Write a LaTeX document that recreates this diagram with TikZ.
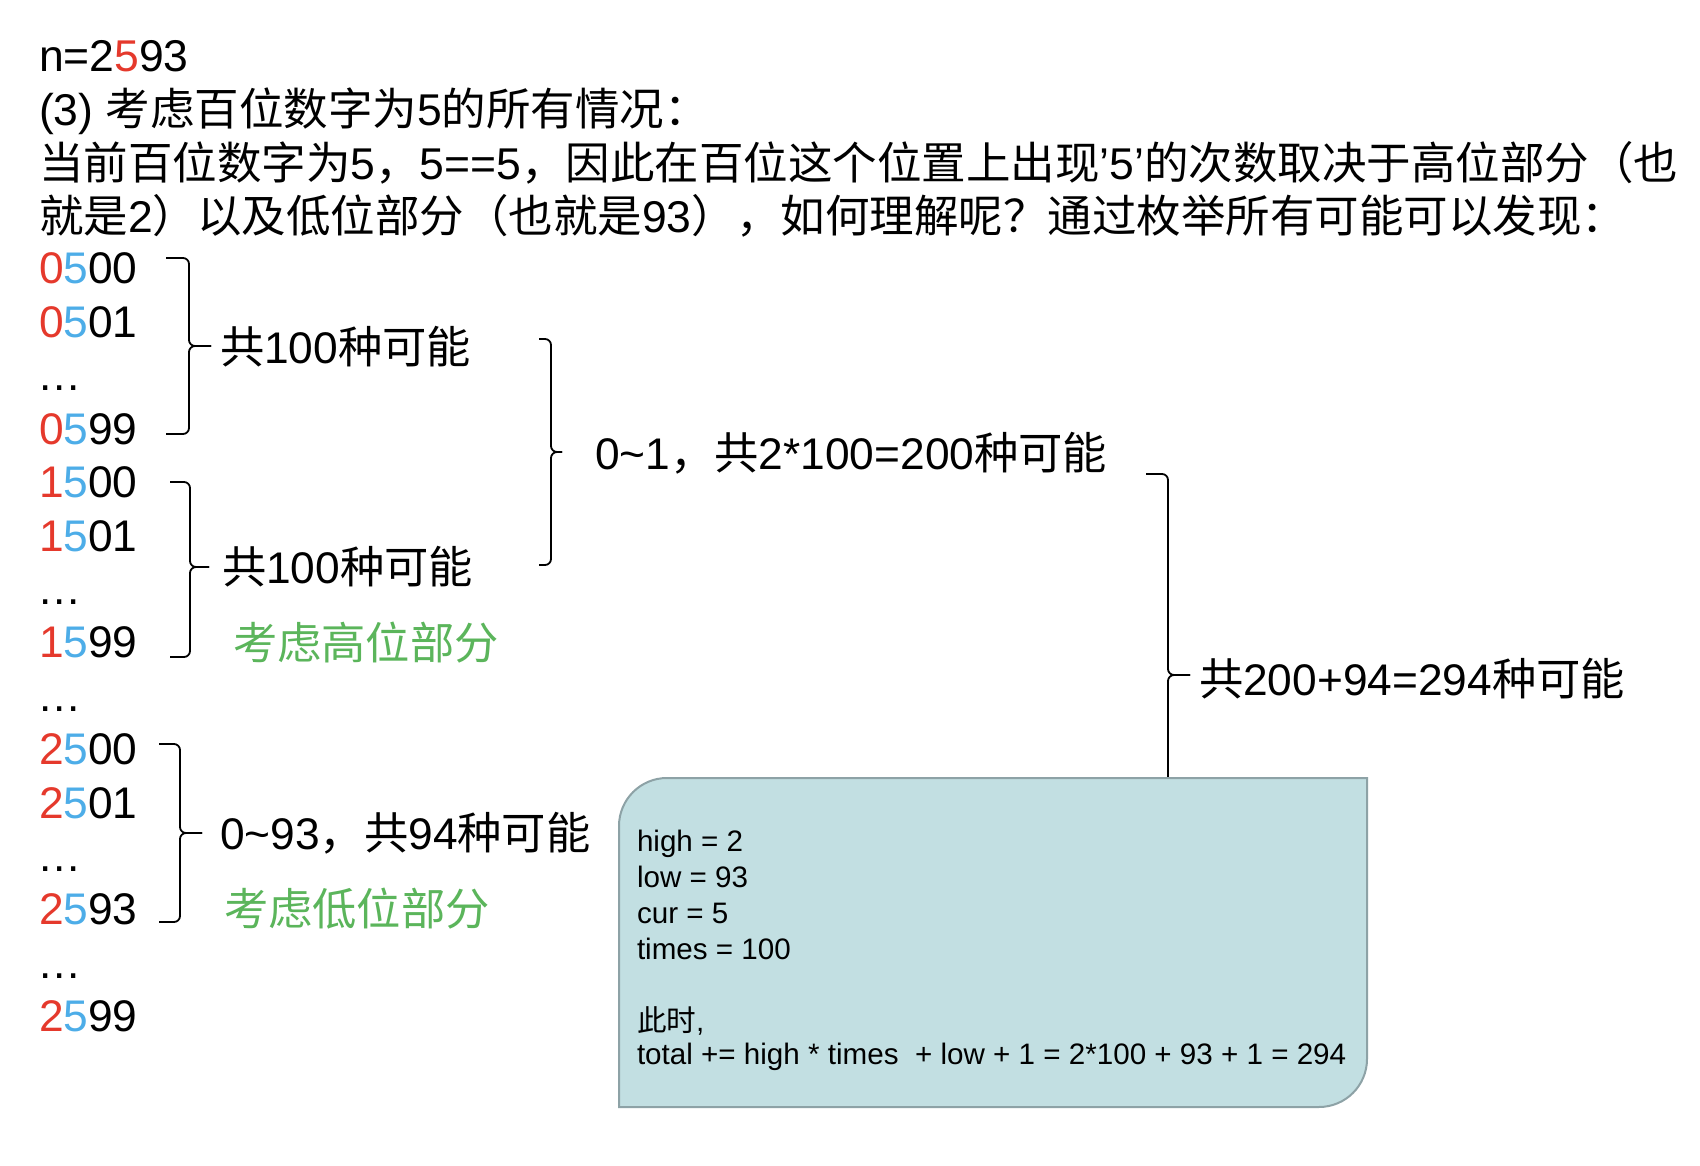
\documentclass[tikz,border=0pt]{standalone}
\usepackage{fontspec}
\setmainfont{Liberation Sans}
\newfontfamily\cjk{Noto Sans CJK SC}
\newcommand\zh[1]{{\cjk #1}}
\definecolor{nred}{HTML}{E5392C}
\definecolor{nblue}{HTML}{4DADE8}
\definecolor{ngreen}{HTML}{5BB55B}
\definecolor{boxfill}{HTML}{C2DFE2}
\definecolor{boxdraw}{HTML}{8DA2A6}
\newcommand\numrow[3]{{\color{nred}#1}{\color{nblue}#2}#3}
\newcommand\mydots{.\kern2pt.\kern2pt.}
\newcommand\mybrace[6]{%
  \draw[brc] (#1,#3) -- (#2,#3) -- (#2,#5) -- (#6,#5);
  \draw[brc] (#1,#4) -- (#2,#4) -- (#2,#5) -- (#6,#5);}
\begin{document}
\begin{tikzpicture}[x=1pt,y=-1pt,
  big/.style={inner sep=0pt, outer sep=0pt, font=\fontsize{44.3}{52}\selectfont},
  title/.style={inner sep=0pt, outer sep=0pt, font=\fontsize{44.5}{52}\selectfont},
  small/.style={inner sep=0pt, outer sep=0pt, font=\fontsize{29.6}{36}\selectfont},
  brc/.style={line width=1.8pt, rounded corners=6pt}]
\fill[white] (0,0) rectangle (1700,1166);
\useasboundingbox (0,0) rectangle (1700,1166);
% title lines
\node[title, anchor=base west] (t1) at (39,72) {n=2{\color{nred}5}93};
\node[title, anchor=base west] (t2) at (39,126) {(3) \zh{考虑百位数字为}5\zh{的所有情况：}};
\node[title, anchor=base west] (t3) at (39,179.5) {\zh{当前百位数字为}5\zh{，}5==5\zh{，因此在百位这个位置上出现}’5’\zh{的次数取决于高位部分（也}};
\node[title, anchor=base west] (t4) at (39,233) {\zh{就是}2\zh{）以及低位部分（也就是}93\zh{），如何理解呢？通过枚举所有可能可以发现：}};
% number rows
\node[big, anchor=base west] (r1) at (39,284.0) {\numrow{0}{5}{00}};
\node[big, anchor=base west] (r2) at (39,337.4) {\numrow{0}{5}{01}};
\node[big, anchor=base west] (r3) at (39,390.8) {\mydots};
\node[big, anchor=base west] (r4) at (39,444.2) {\numrow{0}{5}{99}};
\node[big, anchor=base west] (r5) at (39,497.6) {\numrow{1}{5}{00}};
\node[big, anchor=base west] (r6) at (39,551.0) {\numrow{1}{5}{01}};
\node[big, anchor=base west] (r7) at (39,604.4) {\mydots};
\node[big, anchor=base west] (r8) at (39,657.8) {\numrow{1}{5}{99}};
\node[big, anchor=base west] (r9) at (39,711.2) {\mydots};
\node[big, anchor=base west] (r10) at (39,764.6) {\numrow{2}{5}{00}};
\node[big, anchor=base west] (r11) at (39,818.0) {\numrow{2}{5}{01}};
\node[big, anchor=base west] (r12) at (39,871.4) {\mydots};
\node[big, anchor=base west] (r13) at (39,924.8) {\numrow{2}{5}{93}};
\node[big, anchor=base west] (r14) at (39,978.2) {\mydots};
\node[big, anchor=base west] (r15) at (39,1031.6) {\numrow{2}{5}{99}};
% braces
\mybrace{166}{189}{258}{434}{346}{211}
\mybrace{170}{190}{482}{657}{567}{209}
\mybrace{539}{551}{339}{565}{452}{562}
\mybrace{159}{180}{744}{922}{833}{202}
\draw[brc] (1146,474) -- (1168,474) -- (1168,675) -- (1190,675);
\draw[brc] (1168,800) -- (1168,675) -- (1190,675);
% labels
\node[big, anchor=west] (lab1) at (220,347) {\zh{共}100\zh{种可能}};
\node[big, anchor=west] (lab2) at (222,567) {\zh{共}100\zh{种可能}};
\node[big, anchor=west, text=ngreen] (g1) at (233,643) {\zh{考虑高位部分}};
\node[big, anchor=west] (lab3) at (595,453) {0\textasciitilde 1\zh{，共}2*100=200\zh{种可能}};
\node[big, anchor=west] (lab4) at (220,833) {0\textasciitilde 93\zh{，共}94\zh{种可能}};
\node[big, anchor=west, text=ngreen] (g2) at (224,909) {\zh{考虑低位部分}};
\node[big, anchor=west] (lab5) at (1199,679) {\zh{共}200+94=294\zh{种可能}};
% box
\draw[line width=2pt, draw=boxdraw, fill=boxfill] (619,1107) -- (619,826) .. controls (619,799.5) and (640.5,778) .. (667,778) -- (1367,778) -- (1367,1059) .. controls (1367,1085.5) and (1345.5,1107) .. (1319,1107) -- cycle;
\node[small, anchor=base west] (b1) at (637,851) {high = 2};
\node[small, anchor=base west] (b2) at (637,887) {low = 93};
\node[small, anchor=base west] (b3) at (637,923) {cur = 5};
\node[small, anchor=base west] (b4) at (637,959) {times = 100};
\node[small, anchor=base west] (b5) at (637,1031) {\zh{此时},};
\node[small, anchor=base west] (b6) at (637,1064) {total += high * times\ \ + low + 1 = 2*100 + 93 + 1 = 294};
\end{tikzpicture}
\end{document}
